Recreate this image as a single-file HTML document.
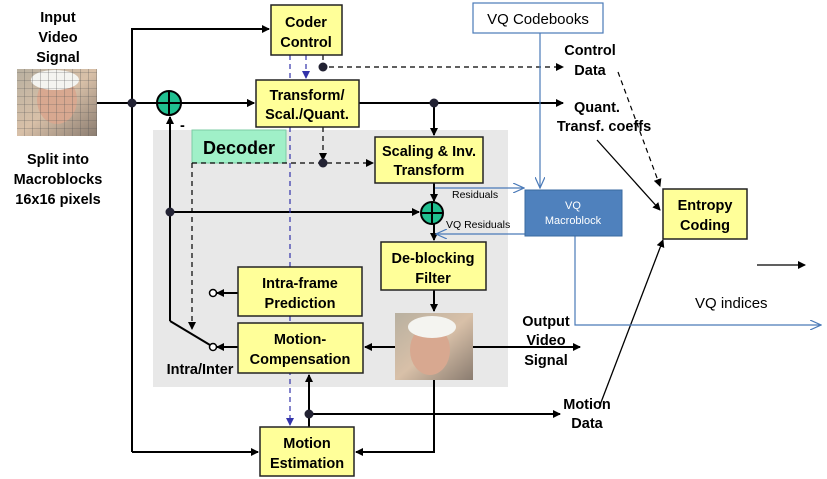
<!DOCTYPE html>
<html><head><meta charset="utf-8"><style>
body{margin:0;background:#fff;width:827px;height:479px;overflow:hidden}
svg{display:block;font-family:"Liberation Sans",Arial,sans-serif}
.b{font-weight:bold;font-size:14.5px;fill:#000}
.y{fill:#ffff99;stroke:#222;stroke-width:1.5}
.k{stroke:#000;stroke-width:2;fill:none}
.d{stroke:#000;stroke-width:1.2;stroke-dasharray:5,4;fill:none}
.bd{stroke:#33a;stroke-width:1.2;stroke-dasharray:5,4;fill:none}
.bl{stroke:#4a7ab8;stroke-width:1.2;fill:none}
</style></head><body>
<svg width="827" height="479" viewBox="0 0 827 479">
<defs>
<marker id="a" markerWidth="8" markerHeight="8" refX="7" refY="4" orient="auto" markerUnits="userSpaceOnUse"><path d="M0,0 L8,4 L0,8 z" fill="#000"/></marker>
<marker id="ab" markerWidth="8" markerHeight="8" refX="7" refY="4" orient="auto" markerUnits="userSpaceOnUse"><path d="M0,0 L8,4 L0,8 z" fill="#33a"/></marker>
<marker id="ao" markerWidth="12" markerHeight="10" refX="11" refY="5" orient="auto" markerUnits="userSpaceOnUse"><path d="M0,0 L11,5 L0,10" fill="none" stroke="#4a7ab8" stroke-width="1.2"/></marker>
<linearGradient id="img" x1="0" y1="0" x2="1" y2="1"><stop offset="0" stop-color="#b8b0a0"/><stop offset=".5" stop-color="#d8c0a8"/><stop offset="1" stop-color="#8a7c70"/></linearGradient>
<pattern id="grid" width="8" height="8" patternUnits="userSpaceOnUse"><path d="M8,0 L0,0 0,8" fill="none" stroke="#555" stroke-width=".6"/></pattern>
</defs>
<rect x="153" y="130" width="355" height="257" fill="#e8e8e8"/>
<rect x="192" y="130" width="94" height="33" fill="#a0f0c8" stroke="#7ccca4"/>
<text x="239" y="154" text-anchor="middle" font-weight="bold" font-size="18">Decoder</text>

<!-- images -->
<rect x="17" y="69" width="80" height="67" fill="url(#img)"/>
<ellipse cx="57" cy="100" rx="20" ry="24" fill="#d8a890"/>
<ellipse cx="55" cy="80" rx="24" ry="10" fill="#f4f4f0"/>
<rect x="17" y="69" width="80" height="67" fill="url(#grid)"/>
<rect x="395" y="313" width="78" height="67" fill="url(#img)"/>
<ellipse cx="430" cy="350" rx="20" ry="25" fill="#d8a890"/>
<ellipse cx="432" cy="327" rx="24" ry="11" fill="#f4f4f0"/>

<!-- black lines -->
<path class="k" d="M97,103 H254" marker-end="url(#a)"/>
<path class="k" d="M132,452 V29 H269" marker-end="url(#a)"/>
<path class="k" d="M132,452 H258" marker-end="url(#a)"/>
<path class="k" d="M181,103 H254" marker-end="url(#a)"/>
<path class="k" d="M359,103 H563" marker-end="url(#a)"/>
<path class="k" d="M434,103 V135" marker-end="url(#a)"/>
<path class="k" d="M434,183 V201" marker-end="url(#a)"/>
<path class="k" d="M434,224 V240" marker-end="url(#a)"/>
<path class="k" d="M434,290 V311" marker-end="url(#a)"/>
<path class="k" d="M395,347 H365" marker-end="url(#a)"/>
<path class="k" d="M473,347 H580" marker-end="url(#a)"/>
<path class="k" d="M434,380 V452 H356" marker-end="url(#a)"/>
<path class="k" d="M309,427 V375" marker-end="url(#a)"/>
<path class="k" d="M309,414 H560" marker-end="url(#a)"/>
<path class="k" d="M170,212 H419" marker-end="url(#a)"/>
<path class="k" d="M170,321 V212 V117" marker-end="url(#a)"/>
<path class="k" d="M170,321 L210,345"/>
<path class="k" d="M238,293 H217" marker-end="url(#a)"/>
<path class="k" d="M238,347 H217" marker-end="url(#a)"/>
<circle cx="213" cy="293" r="3.5" fill="#fff" stroke="#000" stroke-width="1.5"/>
<circle cx="213" cy="347" r="3.5" fill="#fff" stroke="#000" stroke-width="1.5"/>
<path d="M597,140 L660,210" stroke="#000" stroke-width="1.3" marker-end="url(#a)"/>
<path d="M600,405 L663,240" stroke="#000" stroke-width="1.3" marker-end="url(#a)"/>
<path d="M757,265 H805" stroke="#000" stroke-width="1.3" marker-end="url(#a)"/>
<path class="d" d="M618,72 L660,186" marker-end="url(#a)"/>

<!-- dashed -->
<path class="d" d="M323,55 V67 H563" marker-end="url(#a)"/>
<path class="d" d="M323,127 V160" marker-end="url(#a)"/>
<path class="d" d="M192,163 H373" marker-end="url(#a)"/>
<path class="d" d="M192,163 V329" marker-end="url(#a)"/>
<path class="bd" d="M306,55 V78" marker-end="url(#ab)"/>
<path class="bd" d="M290,55 V425" marker-end="url(#ab)"/>

<!-- dots -->
<g fill="#223">
<circle cx="132" cy="103" r="4.5"/><circle cx="434" cy="103" r="4.5"/><circle cx="323" cy="67" r="4.5"/>
<circle cx="323" cy="163" r="4.5"/><circle cx="170" cy="212" r="4.5"/><circle cx="309" cy="414" r="4.5"/>
</g>

<!-- plus -->
<g stroke="#000" stroke-width="2"><circle cx="169" cy="103" r="12" fill="#20c090"/><path d="M157,103 H181 M169,91 V115"/>
<circle cx="432" cy="213" r="11" fill="#20c090"/><path d="M421,213 H443 M432,202 V224"/></g>
<text x="180" y="130" class="b">-</text>

<!-- blue -->
<path class="bl" d="M540,33 V188" marker-end="url(#ao)"/>
<path class="bl" d="M435,188 H524" marker-end="url(#ao)"/>
<path class="bl" d="M525,234 H436" marker-end="url(#ao)"/>
<path class="bl" d="M575,236 V325 H821" marker-end="url(#ao)"/>
<rect x="473" y="3" width="130" height="30" fill="#fff" stroke="#4a7ab8" stroke-width="1.2"/>
<text x="538" y="24" text-anchor="middle" font-size="15">VQ Codebooks</text>
<rect x="525" y="190" width="97" height="46" fill="#4f81bd" stroke="#3a6aa0"/>
<text x="573" y="209" text-anchor="middle" font-size="11" fill="#fff">VQ</text>
<text x="573" y="224" text-anchor="middle" font-size="11" fill="#fff">Macroblock</text>
<text x="452" y="198" font-size="10.5">Residuals</text>
<text x="446" y="228" font-size="10.5">VQ Residuals</text>

<!-- boxes -->
<rect class="y" x="271" y="5" width="71" height="50"/>
<text x="306" y="27" text-anchor="middle" class="b">Coder</text><text x="306" y="47" text-anchor="middle" class="b">Control</text>
<rect class="y" x="256" y="80" width="103" height="47"/>
<text x="307" y="100" text-anchor="middle" class="b">Transform/</text><text x="307" y="119" text-anchor="middle" class="b">Scal./Quant.</text>
<rect class="y" x="375" y="137" width="108" height="46"/>
<text x="429" y="156" text-anchor="middle" class="b">Scaling &amp; Inv.</text><text x="429" y="175" text-anchor="middle" class="b">Transform</text>
<rect class="y" x="381" y="242" width="105" height="48"/>
<text x="433" y="263" text-anchor="middle" class="b">De-blocking</text><text x="433" y="283" text-anchor="middle" class="b">Filter</text>
<rect class="y" x="238" y="267" width="124" height="49"/>
<text x="300" y="288" text-anchor="middle" class="b">Intra-frame</text><text x="300" y="308" text-anchor="middle" class="b">Prediction</text>
<rect class="y" x="238" y="323" width="125" height="50"/>
<text x="300" y="344" text-anchor="middle" class="b">Motion-</text><text x="300" y="364" text-anchor="middle" class="b">Compensation</text>
<rect class="y" x="260" y="427" width="94" height="49"/>
<text x="307" y="448" text-anchor="middle" class="b">Motion</text><text x="307" y="468" text-anchor="middle" class="b">Estimation</text>
<rect class="y" x="663" y="189" width="84" height="50"/>
<text x="705" y="210" text-anchor="middle" class="b">Entropy</text><text x="705" y="230" text-anchor="middle" class="b">Coding</text>

<!-- labels -->
<g class="b" text-anchor="middle">
<text x="58" y="22">Input</text><text x="58" y="42">Video</text><text x="58" y="62">Signal</text>
<text x="58" y="164">Split into</text><text x="58" y="184">Macroblocks</text><text x="58" y="204">16x16 pixels</text>
<text x="590" y="55">Control</text><text x="590" y="75">Data</text>
<text x="597" y="112">Quant.</text><text x="604" y="131">Transf. coeffs</text>
<text x="546" y="326">Output</text><text x="546" y="345">Video</text><text x="546" y="365">Signal</text>
<text x="587" y="409">Motion</text><text x="587" y="428">Data</text>
<text x="200" y="374">Intra/Inter</text>
</g>
<text x="695" y="308" font-size="15">VQ indices</text>
</svg>
</body></html>
